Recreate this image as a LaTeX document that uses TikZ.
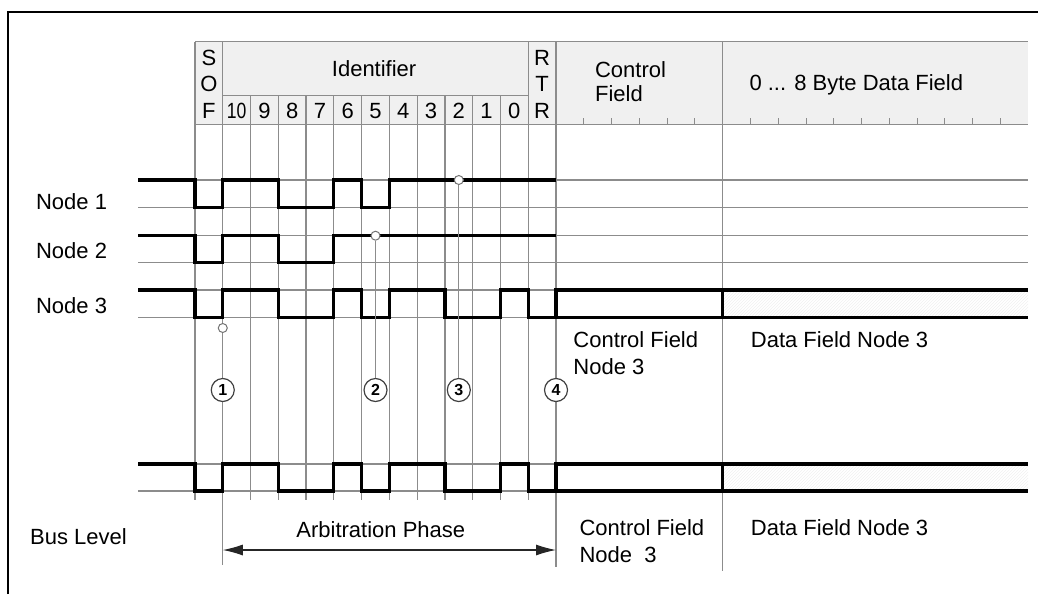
\documentclass[tikz,border=0pt]{standalone}
\usepackage{fontspec}
\setmainfont{Liberation Sans}
\usepackage{graphicx}
\usetikzlibrary{arrows.meta,patterns}

\tikzset{
  grid line/.style={black!45, line width=1.2pt},
  signal/.style={black, line width=3.2pt},
  lbl/.style={font=\fontsize{22}{26}\selectfont, inner sep=0pt},
  tap/.style={circle, draw=black!55, fill=white, line width=1pt, inner sep=0pt, minimum size=9pt},
  marker/.style={circle, draw=black!75, fill=white, line width=1.2pt, inner sep=0pt,
    minimum size=23pt, font=\fontsize{16}{16}\selectfont\bfseries},
}

\begin{document}
\begin{tikzpicture}[x=27.77pt, y=-1pt]
  \useasboundingbox (-7.022,0) rectangle (30.356,594);
  % outer frame
  \draw[line width=1.5pt] (-6.73,594) -- (-6.73,12) -- (30.356,12);
  % header band
  \fill[black!6] (0,41.7) rectangle (30,124.3);
  \draw[grid line] (0,41.7) -- (30,41.7);
  \draw[grid line] (0,124.3) -- (30,124.3);
  \draw[grid line] (1,95.7) -- (12,95.7);
  \foreach \x in {14,15,16,17,18,20,21,...,29}
    \draw[grid line, line width=0.8pt] (\x,118) -- (\x,124.3);
  % bit lines
  \foreach \x/\bot in {0/500, 1/565, 12/500, 13/567, 19/571}
    \draw[grid line] (\x,41.7) -- (\x,\bot);
  \foreach \x in {2,...,11}
    \draw[grid line] (\x,95.7) -- (\x,500);
  % levels
  \foreach \y in {180,207.3,235.7,262.7,290,317.7,464,491}
    \draw[grid line] (-2.05,\y) -- (30,\y);
  \fill[pattern=north east lines, pattern color=black!6] (19,290) rectangle (30,317.7);
  \fill[pattern=north east lines, pattern color=black!6] (19,464) rectangle (30,491);

  % node 1, node 2
  \draw[signal] (-2.05,180) -| (0,207.3) -| (1,180) -| (3,207.3) -| (5,180) -| (6,207.3) -| (7,180) -- (13,180);
  \draw[signal] (-2.05,235.7) -| (0,262.7) -| (1,235.7) -| (3,262.7) -| (5,235.7) -- (13,235.7);
  % node 3 and bus
  \foreach \hi/\lo in {290/317.7, 464/491} {
    \draw[signal] (-2.05,\hi) -| (0,\lo) -| (1,\hi) -| (3,\lo) -| (5,\hi) -| (6,\lo) -| (7,\hi)
      -| (9,\lo) -| (11,\hi) -| (12,\lo) -| (13,\hi) -- (30,\hi);
    \draw[signal] (12,\lo) -- (30,\lo);
    \draw[signal] (19,\hi) -- (19,\lo);
  }

  % header texts
  \foreach \c/\y in {S/58,O/84,F/111}
    \node[lbl] (sof\c) at (0.5,\y) {\c};
  \foreach \c/\y in {R/58,T/84,R/111}
    \node[lbl] (rtr\y) at (12.5,\y) {\c};
  \node[lbl] (ident) at (6.45,69) {Identifier};
  \foreach \b [count=\i] in {10,9,...,0}
    \node[lbl] (bit\b) at ({\i+0.5},111) {\ifnum\b=10 \scalebox{0.8}[1]{10}\else\b\fi};
  \node[lbl, anchor=west, align=left, font=\fontsize{22}{24}\selectfont] (ctrlhead) at (14.4,81.3) {Control\\Field};
  \node[lbl, anchor=west] (datahead) at (19.96,85) {0 ... 8 Byte Data Field};

  % row labels
  \node[lbl, anchor=west] (node1) at (-5.73,201.7) {Node 1};
  \node[lbl, anchor=west] (node2) at (-5.73,251) {Node 2};
  \node[lbl, anchor=west] (node3) at (-5.73,306) {Node 3};
  \node[lbl, anchor=west] (bus) at (-5.94,536.7) {Bus Level};

  % loss of arbitration
  \node[tap] (tap1) at (1,328) {};
  \node[tap] (tap2) at (6.5,235.7) {};
  \node[tap] (tap3) at (9.5,180) {};
  \node[marker] (m1) at (1,390) {1};
  \node[marker] (m2) at (6.5,390) {2};
  \node[marker] (m3) at (9.5,390) {3};
  \node[marker] (m4) at (13,390) {4};
  \draw[grid line] (tap2) -- (m2);
  \draw[grid line] (tap3) -- (m3);

  \node[lbl, anchor=west, align=left, font=\fontsize{22}{26.7}\selectfont] (ctrl3) at (13.62,353.3) {Control Field\\Node 3};
  \node[lbl, anchor=west] (data3) at (20.01,340) {Data Field Node 3};

  % arbitration phase
  \coordinate (arbL) at (1,550);
  \coordinate (arbR) at (13,550);
  \draw[black!85, line width=1.1pt, {Latex[length=20pt,width=11pt]}-{Latex[length=20pt,width=11pt]}] (arbL) -- (arbR);
  \node[lbl] (arb) at (6.69,529.3) {Arbitration Phase};
  \node[lbl, anchor=west, align=left, font=\fontsize{22}{27.7}\selectfont] (ctrlbus) at (13.84,541.2) {Control Field\\Node\ \ 3};
  \node[lbl, anchor=west] (databus) at (20.01,527.3) {Data Field Node 3};
\end{tikzpicture}
\end{document}
